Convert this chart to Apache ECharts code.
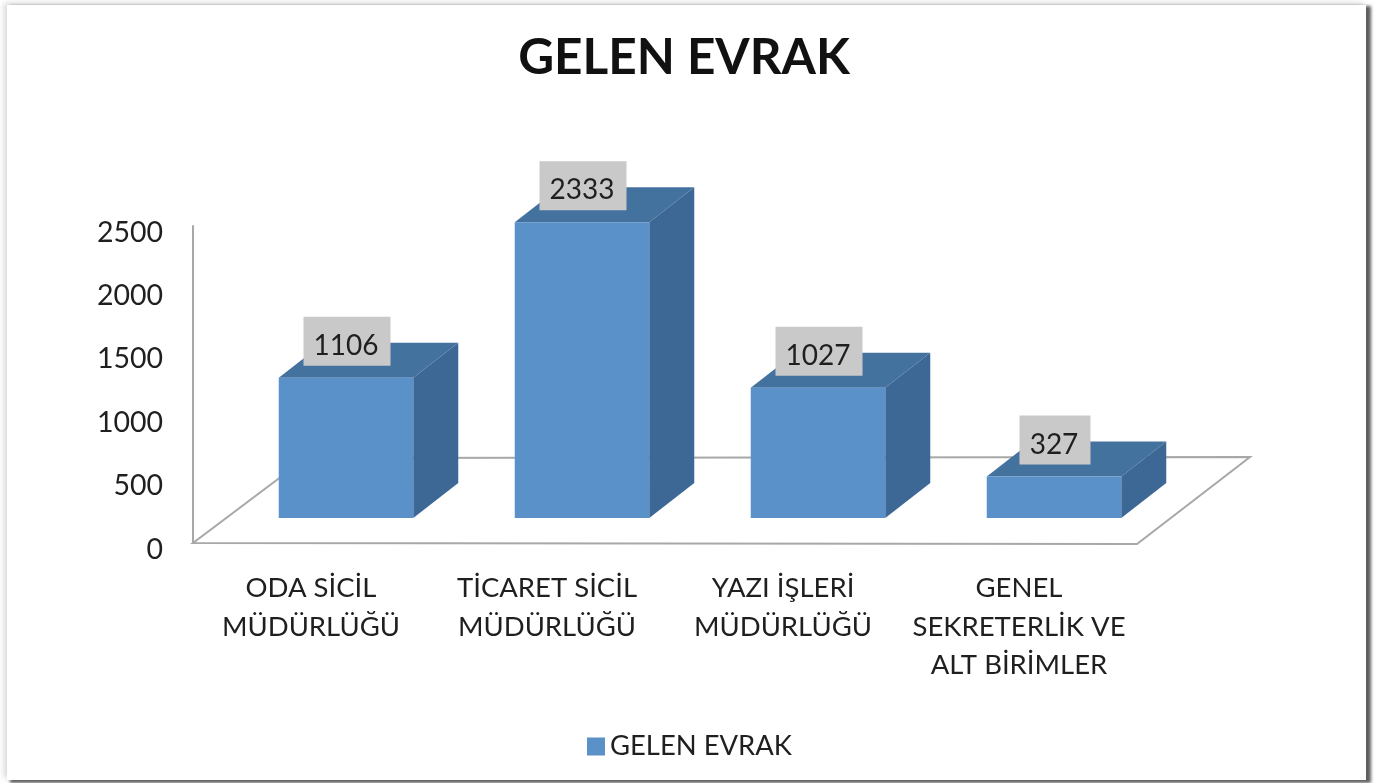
<!DOCTYPE html>
<html>
<head>
<meta charset="utf-8">
<script src="https://cdn.jsdelivr.net/npm/echarts@6/dist/echarts.min.js"></script>
<style>
html,body{margin:0;padding:0;background:#fff;overflow:hidden}
#frame{position:absolute;left:7px;top:5px;width:1359px;height:775px;background:#fff;
box-shadow:4px 2px 3px 1px #5f5f5f,-3px -2px 6px #d8d8d8}
#main{position:absolute;left:0;top:0;width:1379px;height:783px}
</style>
</head>
<body>
<div id="frame"></div>
<div id="main"></div>
<script>
const categories = ['ODA SİCİL\nMÜDÜRLÜĞÜ', 'TİCARET SİCİL\nMÜDÜRLÜĞÜ', 'YAZI İŞLERİ\nMÜDÜRLÜĞÜ', 'GENEL\nSEKRETERLİK VE\nALT BİRİMLER'];
const values = [1106, 2333, 1027, 327];
const seriesName = 'GELEN EVRAK';
const titleText = 'GELEN EVRAK';
const yTicks = { min: 0, max: 2500, interval: 500 };

const FONT = 'Lato';
const TEXT = '#1f1f1f';
const AXIS = '#a8a8a8';

function renderFloor(params, api) {
  const c = params.coordSys;
  const x0 = c.x, x1 = c.x + c.width, y = c.y + c.height;
  return {
    type: 'polygon',
    silent: true,
    shape: { points: [[x0, y], [x1, y + 1], [x1 + 113, y - 86], [x0 + 113, y - 85]] },
    style: { fill: 'none', stroke: AXIS, lineWidth: 2 }
  };
}

function renderBar(params, api) {
  const idx = api.value(0);
  const v = api.value(1);
  const top = api.coord([idx, v]);
  const base = api.coord([idx, 0]);
  const w = api.size([1, 0])[0] * 0.57;
  const dx = 35, dy = -25, bx = 45, by = -35;
  const cx = top[0] + dx;
  const l = cx - w / 2, r = cx + w / 2;
  const t = top[1] + dy, b = base[1] + dy;
  const label = String(v);
  const boxW = label.length * 16 + 23;
  return {
    type: 'group',
    children: [
      { type: 'polygon', shape: { points: [[l, t], [l + bx, t + by], [r + bx, t + by], [r, t]] },
        style: { fill: '#44729F' } },
      { type: 'polygon', shape: { points: [[r, t], [r + bx, t + by], [r + bx, b + by], [r, b]] },
        style: { fill: '#3D6896' } },
      { type: 'rect', shape: { x: l, y: t, width: w, height: b - t },
        style: { fill: '#5B91C9' } },
      { type: 'rect', z2: 10, shape: { x: cx + 1 - boxW / 2, y: t - 61, width: boxW, height: 49 },
        style: { fill: '#C9C9C9' } },
      { type: 'text', z2: 11, x: cx, y: t - 32,
        style: {
          text: label, align: 'center', verticalAlign: 'middle',
          font: '28px ' + FONT, fill: TEXT
        } }
    ]
  };
}

const chart = echarts.init(document.getElementById('main'), null, { renderer: 'canvas' });
chart.setOption({
  animation: false,
  backgroundColor: 'transparent',
  title: {
    text: titleText, left: 679, top: 28, textAlign: 'center',
    textStyle: { fontFamily: FONT, fontWeight: 'bold', fontSize: 49.5, color: '#111' }
  },
  legend: {
    data: [seriesName], left: 582, top: 724, itemWidth: 18, itemHeight: 18, itemGap: 4,
    icon: 'rect',
    textStyle: { fontFamily: FONT, fontSize: 27.4, color: TEXT, lineHeight: 27, padding: [8, 0, 0, 0] }
  },
  grid: { left: 193, top: 226, width: 944, height: 317, containLabel: false },
  xAxis: {
    type: 'category', data: categories,
    axisLine: { show: false }, axisTick: { show: false }, splitLine: { show: false },
    axisLabel: { fontFamily: FONT, fontSize: 27.5, color: TEXT, lineHeight: 38.5, margin: 26, interval: 0 }
  },
  yAxis: {
    type: 'value', min: yTicks.min, max: yTicks.max, interval: yTicks.interval,
    axisLine: { show: true, lineStyle: { color: AXIS, width: 2 } },
    axisTick: { show: false }, splitLine: { show: false },
    axisLabel: { fontFamily: FONT, fontSize: 28.5, color: TEXT, margin: 30, verticalAlign: 'top', lineHeight: 13, formatter: v => String(v) }
  },
  series: [
    { type: 'custom', name: 'floor', silent: true, z: 1, renderItem: renderFloor,
      data: [[0, 0]], encode: { x: 0, y: 1 } },
    { type: 'custom', name: seriesName, z: 2, renderItem: renderBar,
      itemStyle: { color: '#5B91C9' },
      data: values.map((v, i) => [i, v]), encode: { x: 0, y: 1 } }
  ]
});
</script>
</body>
</html>
